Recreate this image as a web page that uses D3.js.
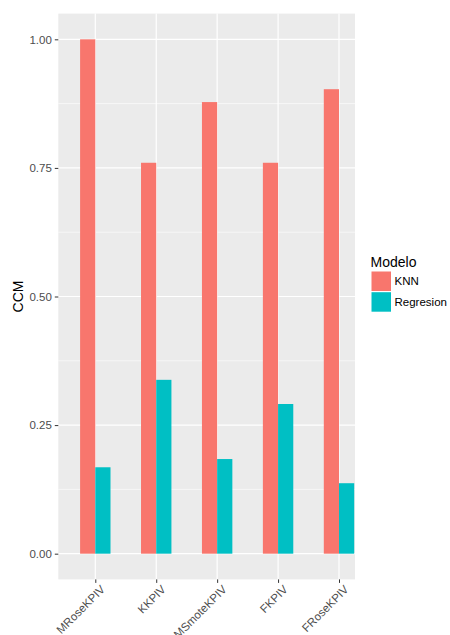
<!DOCTYPE html>
<html>
<head>
<meta charset="utf-8">
<script src="https://cdn.jsdelivr.net/npm/d3@7"></script>
<style>
  body { margin: 0; background: #fff; }
  text { font-family: "Liberation Sans", Arial, sans-serif; }
</style>
</head>
<body>
<svg id="chart" width="450" height="635"></svg>
<script>
const categories = ["MRoseKPIV", "KKPIV", "MSmoteKPIV", "FKPIV", "FRoseKPIV"];
const seriesNames = ["KNN", "Regresion"];
const knnValues = [1.00, 0.76, 0.878, 0.76, 0.903];
const regValues = [0.168, 0.338, 0.184, 0.291, 0.137];
const yTicks = [0, 0.25, 0.5, 0.75, 1.0];
const yMinor = [0.125, 0.375, 0.625, 0.875];
const colors = ["#F8766D", "#00BFC4"];

const svg = d3.select("#chart");
const panel = { left: 58.3, right: 355, top: 13.6, bottom: 579.4 };

const y = d3.scaleLinear().domain([-0.05, 1.05]).range([panel.bottom, panel.top]);
const x = d3.scaleLinear().domain([0, categories.length - 1]).range([95.3, 339]);
const barW = 15.2;

svg.append("rect")
  .attr("x", panel.left).attr("y", panel.top)
  .attr("width", panel.right - panel.left).attr("height", panel.bottom - panel.top)
  .attr("fill", "#EBEBEB");

const grid = svg.append("g");
yMinor.forEach(v => grid.append("line")
  .attr("x1", panel.left).attr("x2", panel.right)
  .attr("y1", y(v)).attr("y2", y(v))
  .attr("stroke", "#fff").attr("stroke-width", 0.6));
yTicks.forEach(v => grid.append("line")
  .attr("x1", panel.left).attr("x2", panel.right)
  .attr("y1", y(v)).attr("y2", y(v))
  .attr("stroke", "#fff").attr("stroke-width", 1.2));
categories.forEach((c, i) => grid.append("line")
  .attr("x1", x(i)).attr("x2", x(i))
  .attr("y1", panel.top).attr("y2", panel.bottom)
  .attr("stroke", "#fff").attr("stroke-width", 1.2));

const series = [knnValues, regValues];
series.forEach((vals, s) => {
  svg.append("g").selectAll("rect").data(vals).enter().append("rect")
    .attr("x", (d, i) => x(i) + (s === 0 ? -barW : 0))
    .attr("width", barW)
    .attr("y", d => y(d))
    .attr("height", d => y(0) - y(d))
    .attr("fill", colors[s]);
});

// Y axis
const yAxis = d3.axisLeft(y).tickValues(yTicks).tickFormat(d3.format(".2f")).tickSize(3.5).tickPadding(3);
const yg = svg.append("g").attr("transform", `translate(${panel.left},0)`).call(yAxis);
yg.select(".domain").remove();
yg.selectAll("line").attr("stroke", "#333");
yg.selectAll("text").attr("fill", "#4D4D4D").style("font-size", "11.5px")
  .style("font-family", '"Liberation Sans", Arial, sans-serif');

// X axis
const xAxis = d3.axisBottom(x).tickValues(d3.range(categories.length))
  .tickFormat(i => categories[i]).tickSize(3.5).tickPadding(3);
const xg = svg.append("g").attr("transform", `translate(0,${panel.bottom})`).call(xAxis);
xg.select(".domain").remove();
xg.selectAll("line").attr("stroke", "#333");
xg.selectAll(".tick text")
  .attr("fill", "#4D4D4D").style("font-size", "11.5px")
  .style("font-family", '"Liberation Sans", Arial, sans-serif')
  .attr("text-anchor", "end")
  .attr("dy", "0.71em")
  .attr("x", 0).attr("y", 0)
  .attr("transform", "translate(4,5) rotate(-45)");

// Y title
svg.append("text")
  .attr("transform", `translate(23,${(panel.top + panel.bottom) / 2}) rotate(-90)`)
  .attr("text-anchor", "middle")
  .style("font-size", "14px").attr("fill", "#000")
  .text("CCM");

// Legend
const lg = svg.append("g");
lg.append("text").attr("x", 370.5).attr("y", 267)
  .style("font-size", "14px").attr("fill", "#000").text("Modelo");
seriesNames.forEach((n, i) => {
  lg.append("rect").attr("x", 371.5).attr("y", 271.5 + i * 20.7)
    .attr("width", 19.5).attr("height", 19.5).attr("fill", colors[i]);
  lg.append("text").attr("x", 394.5).attr("y", 281.3 + i * 20.7).attr("dy", "0.35em")
    .style("font-size", "11.5px").attr("fill", "#000").text(n);
});
</script>
</body>
</html>
